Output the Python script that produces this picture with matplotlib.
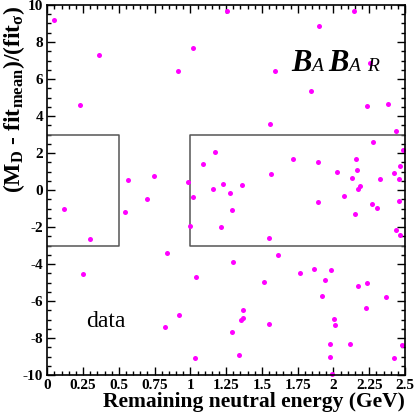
import numpy as np
import matplotlib
matplotlib.use('Agg')
import matplotlib.pyplot as plt
from matplotlib.ticker import MultipleLocator

plt.rcParams['font.family'] = ['Liberation Serif', 'DejaVu Serif']
plt.rcParams['mathtext.fontset'] = 'custom'
plt.rcParams['mathtext.rm'] = 'Liberation Serif:bold'
plt.rcParams['mathtext.it'] = 'Liberation Serif:bold'
plt.rcParams['mathtext.bf'] = 'Liberation Serif:bold'

# data
energy = [0.047, 0.229, 0.359, 0.912, 1.019, 0.564, 0.748, 0.982, 1.089, 1.021,
          0.695, 0.119, 0.299, 0.248, 0.541, 0.837, 0.998, 1.042, 0.921, 0.821,
          1.033, 1.255, 2.143, 1.900, 1.590, 1.846, 2.255, 2.231, 2.378, 1.557,
          2.436, 2.273, 2.484, 1.175, 1.716, 1.890, 2.159, 2.167, 2.027, 2.466,
          2.422, 2.131, 2.324, 2.457, 1.560, 1.227, 1.157, 1.363, 1.278, 2.183,
          2.173, 2.075, 2.456, 1.293, 1.217, 1.550, 1.613, 1.295, 1.890, 2.271,
          2.307, 2.148, 2.438, 2.464, 1.863, 1.983, 1.769, 1.512, 1.942, 2.232,
          2.171, 1.922, 2.364, 1.370, 2.230, 1.365, 1.352, 2.003, 2.014, 1.548,
          1.293, 1.978, 2.115, 2.478, 1.343, 1.976, 2.424, 1.987]
pull = [9.19, 4.58, 7.28, 6.45, 7.69, 0.52, 0.74, 0.43, 1.42, -0.35,
        -0.50, -1.03, -2.63, -4.56, -1.19, -3.41, -1.95, -4.69, -6.74, -7.42,
        -9.06, 9.69, 9.66, 8.86, 6.42, 5.35, 6.86, 4.54, 4.66, 3.55,
        3.17, 2.61, 2.18, 2.04, 1.69, 1.52, 1.66, 1.06, 1.00, 1.29,
        0.90, 0.66, 0.61, 0.58, 0.85, 0.34, 0.07, 0.25, -0.14, 0.23,
        0.05, -0.34, -0.58, -1.10, -1.99, -2.59, -3.53, -3.86, -0.66, -0.76,
        -0.97, -1.30, -2.16, -2.44, -4.25, -4.33, -4.49, -4.96, -4.84, -5.01,
        -5.19, -5.75, -5.79, -6.49, -6.36, -6.90, -7.04, -6.98, -7.31, -7.26,
        -7.66, -8.31, -8.32, -8.38, -8.92, -9.00, -9.06, -9.94]

# sideband boxes (x range, y range)
box_left_x = [0.0, 0.5, 0.5, 0.0]
box_left_y = [3, 3, -3, -3]
box_right_x = [2.5, 1.0, 1.0, 2.5]
box_right_y = [3, 3, -3, -3]

xticks = [0, 0.25, 0.5, 0.75, 1, 1.25, 1.5, 1.75, 2, 2.25, 2.5]
xticklabels = ['0', '0.25', '0.5', '0.75', '1', '1.25', '1.5', '1.75', '2', '2.25', '2.5']
yticks = [-10, -8, -6, -4, -2, 0, 2, 4, 6, 8, 10]
yticklabels = ['-10', '-8', '-6', '-4', '-2', '0', '2', '4', '6', '8', '10']

fig = plt.figure(figsize=(4.15, 4.15), dpi=100)
ax = fig.add_axes([0.114, 0.096, 0.862, 0.892])

ax.plot(box_left_x, box_left_y, color='#555555', lw=1.1)
ax.plot(box_right_x, box_right_y, color='#555555', lw=1.1)
ax.plot(energy, pull, 'o', color='#ff00ff', markersize=3.6, markeredgewidth=0, clip_on=False)

ax.set_xlim(0, 2.5)
ax.set_ylim(-10, 10)
ax.set_xticks(xticks)
ax.set_xticklabels(xticklabels)
ax.set_yticks(yticks)
ax.set_yticklabels(yticklabels)
ax.xaxis.set_minor_locator(MultipleLocator(0.05))
ax.yaxis.set_minor_locator(MultipleLocator(0.5))
ax.tick_params(which='both', direction='in', top=True, right=True, width=1)
ax.tick_params(which='major', length=6, labelsize=11, pad=3)
ax.tick_params(which='minor', length=3)
for lab in ax.get_xticklabels() + ax.get_yticklabels():
    lab.set_fontweight('bold')
for sp in ax.spines.values():
    sp.set_linewidth(1.2)

ax.set_xlabel('Remaining neutral energy (GeV)', fontsize=15.5, fontweight='bold', loc='right', labelpad=0)
ax.set_ylabel(r'(M$_\mathrm{D}$ - fit$_\mathrm{mean}$)/(fit$_\sigma$)', fontsize=17,
              fontweight='bold', loc='top')
ax.yaxis.set_label_coords(-0.058, 0.997)

ax.text(0.41, -7.1, 'data', fontsize=17, ha='center', va='center')

# BaBar logo
logo = [('B', 0.682, 22), ('A', 0.736, 14), ('B', 0.786, 22), ('A', 0.841, 14), ('R', 0.893, 14)]
for ch, xp, fs in logo:
    ax.text(xp, 0.822, ch, transform=ax.transAxes, fontsize=fs, fontstyle='italic',
            fontweight='bold' if ch == 'B' else 'normal', ha='left', va='baseline')

fig.savefig('out.png', dpi=100)
